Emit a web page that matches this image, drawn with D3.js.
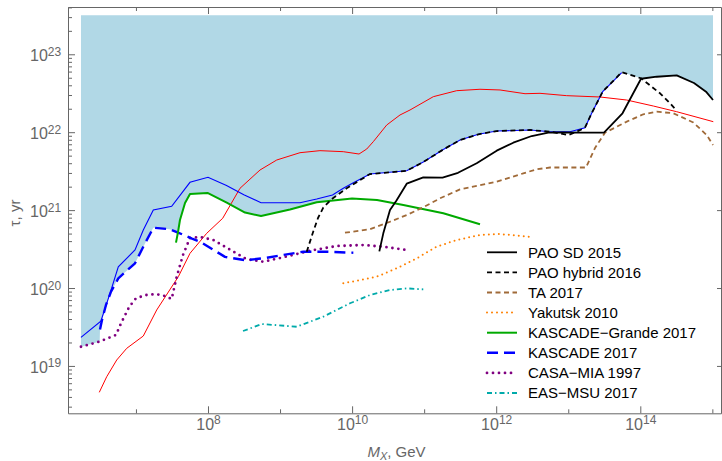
<!DOCTYPE html>
<html>
<head>
<meta charset="utf-8">
<script src="https://cdn.jsdelivr.net/npm/d3@7"></script>
<style>
body { margin: 0; background: #fff; }
svg { display: block; font-family: "Liberation Sans", Arial, sans-serif; }
</style>
</head>
<body>
<svg id="chart" width="722" height="461"></svg>
<script>
// every point is [log10(M_X / GeV), log10(tau / yr)]
var paoSD = [[10.378,20.471],[10.433,20.702],[10.526,21.001],[10.616,21.123],[10.758,21.339],[10.988,21.421],
  [11.255,21.418],[11.470,21.479],[11.729,21.601],[12.007,21.763],[12.237,21.865],[12.493,21.951],[12.723,21.994],
  [12.909,21.999],[13.117,21.994],[13.496,21.994],[13.753,22.243],[14.010,22.686],[14.228,22.712],[14.505,22.730],
  [14.745,22.632],[14.912,22.520],[15.009,22.413]];
var paoHybrid = [[9.370,20.466],[9.461,20.725],[9.527,20.899],[9.600,21.033],[9.717,21.142],[9.925,21.280],
  [10.248,21.463],[10.758,21.505],[10.988,21.617],[11.266,21.778],[11.498,21.900],[11.752,21.973],[12.007,22.015],
  [12.469,22.028],[12.747,22.006],[13.001,21.964],[13.117,22.006],[13.232,22.058],[13.325,22.243],[13.478,22.520],
  [13.742,22.770],[14.010,22.692],[14.274,22.499],[14.412,22.371],[14.496,22.285]];
var ta = [[9.901,20.710],[10.248,20.754],[10.526,20.851],[10.758,20.937],[10.988,21.036],[11.220,21.151],
  [11.498,21.267],[12.007,21.365],[12.376,21.472],[12.562,21.524],[12.747,21.547],[13.246,21.547],[13.371,21.797],
  [13.510,21.994],[13.811,22.135],[14.042,22.230],[14.228,22.263],[14.458,22.243],[14.736,22.125],[14.921,21.964],
  [15.009,21.836]];
var yakutsk = [[9.878,20.060],[10.341,20.145],[10.619,20.253],[10.897,20.381],[11.174,20.530],[11.452,20.616],
  [11.775,20.680],[12.053,20.693],[12.497,20.655]];
var kascadeGrande = [[7.556,20.582],[7.584,20.719],[7.611,20.873],[7.681,21.091],[7.750,21.207],[7.993,21.220],
  [8.260,21.095],[8.514,20.969],[8.736,20.924],[9.138,21.008],[9.509,21.101],[9.999,21.149],[10.346,21.130],
  [10.711,21.065],[11.266,20.959],[11.775,20.818]];
var kascade = [[6.501,19.467],[6.529,19.589],[6.584,19.782],[6.654,19.953],[6.755,20.124],[6.987,20.317],
  [7.102,20.530],[7.241,20.774],[7.473,20.754],[7.584,20.712],[7.778,20.635],[7.889,20.594],[8.236,20.400],
  [8.527,20.356],[8.791,20.385],[9.045,20.424],[9.323,20.466],[9.647,20.466],[10.017,20.453]];
var casaMia = [[6.237,19.246],[6.491,19.311],[6.723,19.397],[6.793,19.547],[6.908,19.760],[7.001,19.868],
  [7.139,19.910],[7.278,19.923],[7.403,19.897],[7.496,19.859],[7.566,20.145],[7.653,20.424],[7.750,20.642],
  [7.889,20.655],[8.074,20.616],[8.260,20.517],[8.537,20.368],[8.768,20.338],[9.045,20.394],[9.416,20.479],
  [9.786,20.539],[10.156,20.552],[10.433,20.530],[10.758,20.488]];
var easMsu = [[8.486,19.448],[8.749,19.538],[9.231,19.503],[9.600,19.632],[9.971,19.804],[10.248,19.910],
  [10.526,19.974],[10.758,19.996],[10.988,19.983]];
// the two thin model curves
var redCurve = [[6.491,18.661],[6.594,18.861],[6.733,19.076],[6.872,19.226],[7.102,19.384],[7.288,19.718],
  [7.588,20.145],[7.750,20.445],[7.982,20.702],[8.204,20.895],[8.444,21.280],[8.722,21.515],[8.954,21.643],
  [9.277,21.737],[9.554,21.763],[9.878,21.750],[10.096,21.720],[10.203,21.784],[10.294,21.878],[10.480,22.092],
  [10.665,22.221],[10.804,22.285],[11.127,22.456],[11.452,22.533],[11.775,22.551],[12.053,22.542],[12.400,22.494],
  [12.608,22.499],[12.978,22.469],[13.441,22.452],[13.811,22.413],[14.181,22.336],[14.505,22.263],[15.013,22.135]];
var blueCurve = [[6.237,19.367],[6.513,19.576],[6.640,19.932],[6.755,20.273],[6.987,20.488],[7.102,20.745],
  [7.241,21.001],[7.496,21.049],[7.750,21.357],[8.000,21.421],[8.257,21.316],[8.497,21.198],[8.736,21.095],
  [9.277,21.095],[9.509,21.142],[9.728,21.194],[9.878,21.280],[10.017,21.352],[10.248,21.463],[10.758,21.505],
  [10.988,21.617],[11.266,21.778],[11.498,21.900],[11.752,21.973],[12.007,22.015],[12.469,22.028],[12.747,22.006],
  [13.024,22.006],[13.232,22.058],[13.325,22.243],[13.478,22.520],[13.742,22.764]];

var legendNames = ["PAO SD 2015", "PAO hybrid 2016", "TA 2017", "Yakutsk 2010",
  "KASCADE\u2212Grande 2017", "KASCADE 2017", "CASA\u2212MIA 1997", "EAS\u2212MSU 2017"];
var xMajor = [8, 10, 12, 14], xMinor = [7, 9, 11, 13, 15];
var yMajor = [19, 20, 21, 22, 23];
var fillTop = 23.5;

var series = [
  { data: paoSD, color: "#000000", width: 1.8, dash: null },
  { data: paoHybrid, color: "#000000", width: 1.8, dash: "5,3.5" },
  { data: ta, color: "#a06a38", width: 1.8, dash: "5,3.5" },
  { data: yakutsk, color: "#ff8000", width: 2, dash: "0,5", cap: "round" },
  { data: kascadeGrande, color: "#00aa00", width: 2, dash: null },
  { data: kascade, color: "#0000ff", width: 2.4, dash: "11,6" },
  { data: casaMia, color: "#800080", width: 2.8, dash: "0,6", cap: "round" },
  { data: easMsu, color: "#00aaaa", width: 1.8, dash: "5,3,1.5,3" }
];

var svg = d3.select("#chart");
var left = 68, right = 721, plotTop = 7, bottom = 413.3;
var x = d3.scaleLog().domain([Math.pow(10, 6.057), Math.pow(10, 15.12)]).range([left, right]);
var y = d3.scaleLog().domain([Math.pow(10, 18.392), Math.pow(10, 23.607)]).range([bottom, plotTop]);
var px = function(d) { return x(Math.pow(10, d[0])); };
var py = function(d) { return y(Math.pow(10, d[1])); };
var line = d3.line().x(px).y(py);

// shaded region: above the highest experimental limit at each mass
function valueAt(c, lx) {
  if (lx < c[0][0] || lx > c[c.length - 1][0]) return null;
  for (var i = 1; i < c.length; i++) {
    if (lx <= c[i][0]) {
      var t = (lx - c[i - 1][0]) / (c[i][0] - c[i - 1][0]);
      return c[i - 1][1] + t * (c[i][1] - c[i - 1][1]);
    }
  }
  return c[c.length - 1][1];
}
var limits = series.map(function(s) { return s.data; });
var x0 = casaMia[0][0], x1 = paoSD[paoSD.length - 1][0];
var xs = d3.range(x0, x1, 0.004).concat([x1]);
limits.forEach(function(c) { c.forEach(function(p) { if (p[0] >= x0 && p[0] <= x1) xs.push(p[0]); }); });
xs.sort(d3.ascending);
var edge = xs.map(function(lx) {
  return [lx, d3.max(limits, function(c) { return valueAt(c, lx); })];
});
svg.append("path")
  .datum(edge)
  .attr("fill", "#b1d8e6")
  .attr("d", d3.area().x(px).y0(y(Math.pow(10, fillTop))).y1(py));

svg.append("path").datum(redCurve)
  .attr("fill", "none").attr("stroke", "#ff0000").attr("stroke-width", 1).attr("d", line);
svg.append("path").datum(blueCurve)
  .attr("fill", "none").attr("stroke", "#0000ff").attr("stroke-width", 1.1).attr("d", line);

// draw the limits bottom-up so PAO ends on top
series.slice().reverse().forEach(function(s) {
  svg.append("path").datum(s.data)
    .attr("fill", "none")
    .attr("stroke", s.color)
    .attr("stroke-width", s.width)
    .attr("stroke-dasharray", s.dash)
    .attr("stroke-linecap", s.cap || "butt")
    .attr("stroke-linejoin", "round")
    .attr("d", line);
});

// frame axes
var frameColor = "#666666";
function pow10(v) { return Math.pow(10, v); }
function styleAxis(g) {
  g.selectAll("path, line").attr("stroke", frameColor);
}
function supLabels(g) {
  g.attr("font-size", 16).attr("font-family", null);
  g.selectAll(".tick text").attr("fill", frameColor).each(function(d) {
    var t = d3.select(this).text("10");
    t.append("tspan").attr("dy", "-0.45em").attr("font-size", "12px").text(Math.round(Math.log10(d)));
  });
}

svg.append("g").attr("transform", "translate(0," + bottom + ")")
  .call(d3.axisBottom(x).tickValues(xMinor.map(pow10)).tickSizeInner(-4).tickSizeOuter(0).tickFormat(""))
  .call(function(g) { g.select(".domain").remove(); }).call(styleAxis);
svg.append("g").attr("transform", "translate(0," + bottom + ")")
  .call(d3.axisBottom(x).tickValues(xMajor.map(pow10)).tickSizeInner(-7).tickSizeOuter(0).tickPadding(5))
  .call(styleAxis).call(supLabels);

svg.append("g").attr("transform", "translate(0," + plotTop + ")")
  .call(d3.axisTop(x).tickValues(xMinor.map(pow10)).tickSizeInner(-4).tickSizeOuter(0).tickFormat(""))
  .call(function(g) { g.select(".domain").remove(); }).call(styleAxis);
svg.append("g").attr("transform", "translate(0," + plotTop + ")")
  .call(d3.axisTop(x).tickValues(xMajor.map(pow10)).tickSizeInner(-7).tickSizeOuter(0).tickFormat(""))
  .call(styleAxis);

var yMinor = [];
d3.range(18, 24).forEach(function(e) {
  d3.range(2, 10).forEach(function(k) {
    var v = k * Math.pow(10, e);
    if (v > y.domain()[0] && v < y.domain()[1]) yMinor.push(v);
  });
});
svg.append("g").attr("transform", "translate(" + left + ",0)")
  .call(d3.axisLeft(y).tickValues(yMinor).tickSizeInner(-4).tickSizeOuter(0).tickFormat(""))
  .call(function(g) { g.select(".domain").remove(); }).call(styleAxis);
svg.append("g").attr("transform", "translate(" + left + ",0)")
  .call(d3.axisLeft(y).tickValues(yMajor.map(pow10)).tickSizeInner(-7).tickSizeOuter(0))
  .call(styleAxis).call(supLabels)
  .call(function(g) { g.selectAll(".tick text").attr("text-anchor", "start").attr("x", -38).attr("dy", "0.4em"); });
svg.append("g").attr("transform", "translate(" + right + ",0)")
  .call(d3.axisRight(y).tickValues(yMajor.map(pow10)).tickSizeInner(-4).tickSizeOuter(0).tickFormat(""))
  .call(styleAxis);

// axis titles
var xt = svg.append("text").attr("x", (left + right) / 2 + 2).attr("y", 457)
  .attr("text-anchor", "middle").attr("font-size", 15).attr("fill", frameColor);
xt.append("tspan").attr("font-style", "italic").text("M");
xt.append("tspan").attr("font-style", "italic").attr("font-size", 11).attr("dy", 3).text("X");
xt.append("tspan").attr("dy", -3).text(",  GeV");
svg.append("text").attr("transform", "translate(20,213) rotate(-90)")
  .attr("text-anchor", "middle").attr("font-size", 15).attr("fill", frameColor)
  .text("\u03c4,  yr");

// legend
var legend = svg.append("g").attr("transform", "translate(487,252.3)");
series.forEach(function(s, i) {
  var row = legend.append("g").attr("transform", "translate(0," + (i * 20.1) + ")");
  row.append("line").attr("x1", 0).attr("x2", 30)
    .attr("stroke", s.color).attr("stroke-width", s.width)
    .attr("stroke-dasharray", s.dash).attr("stroke-linecap", s.cap || "butt");
  row.append("text").attr("x", 41).attr("dy", "0.36em")
    .attr("font-size", 15).attr("fill", "#000").text(legendNames[i]);
});
</script>
</body>
</html>
